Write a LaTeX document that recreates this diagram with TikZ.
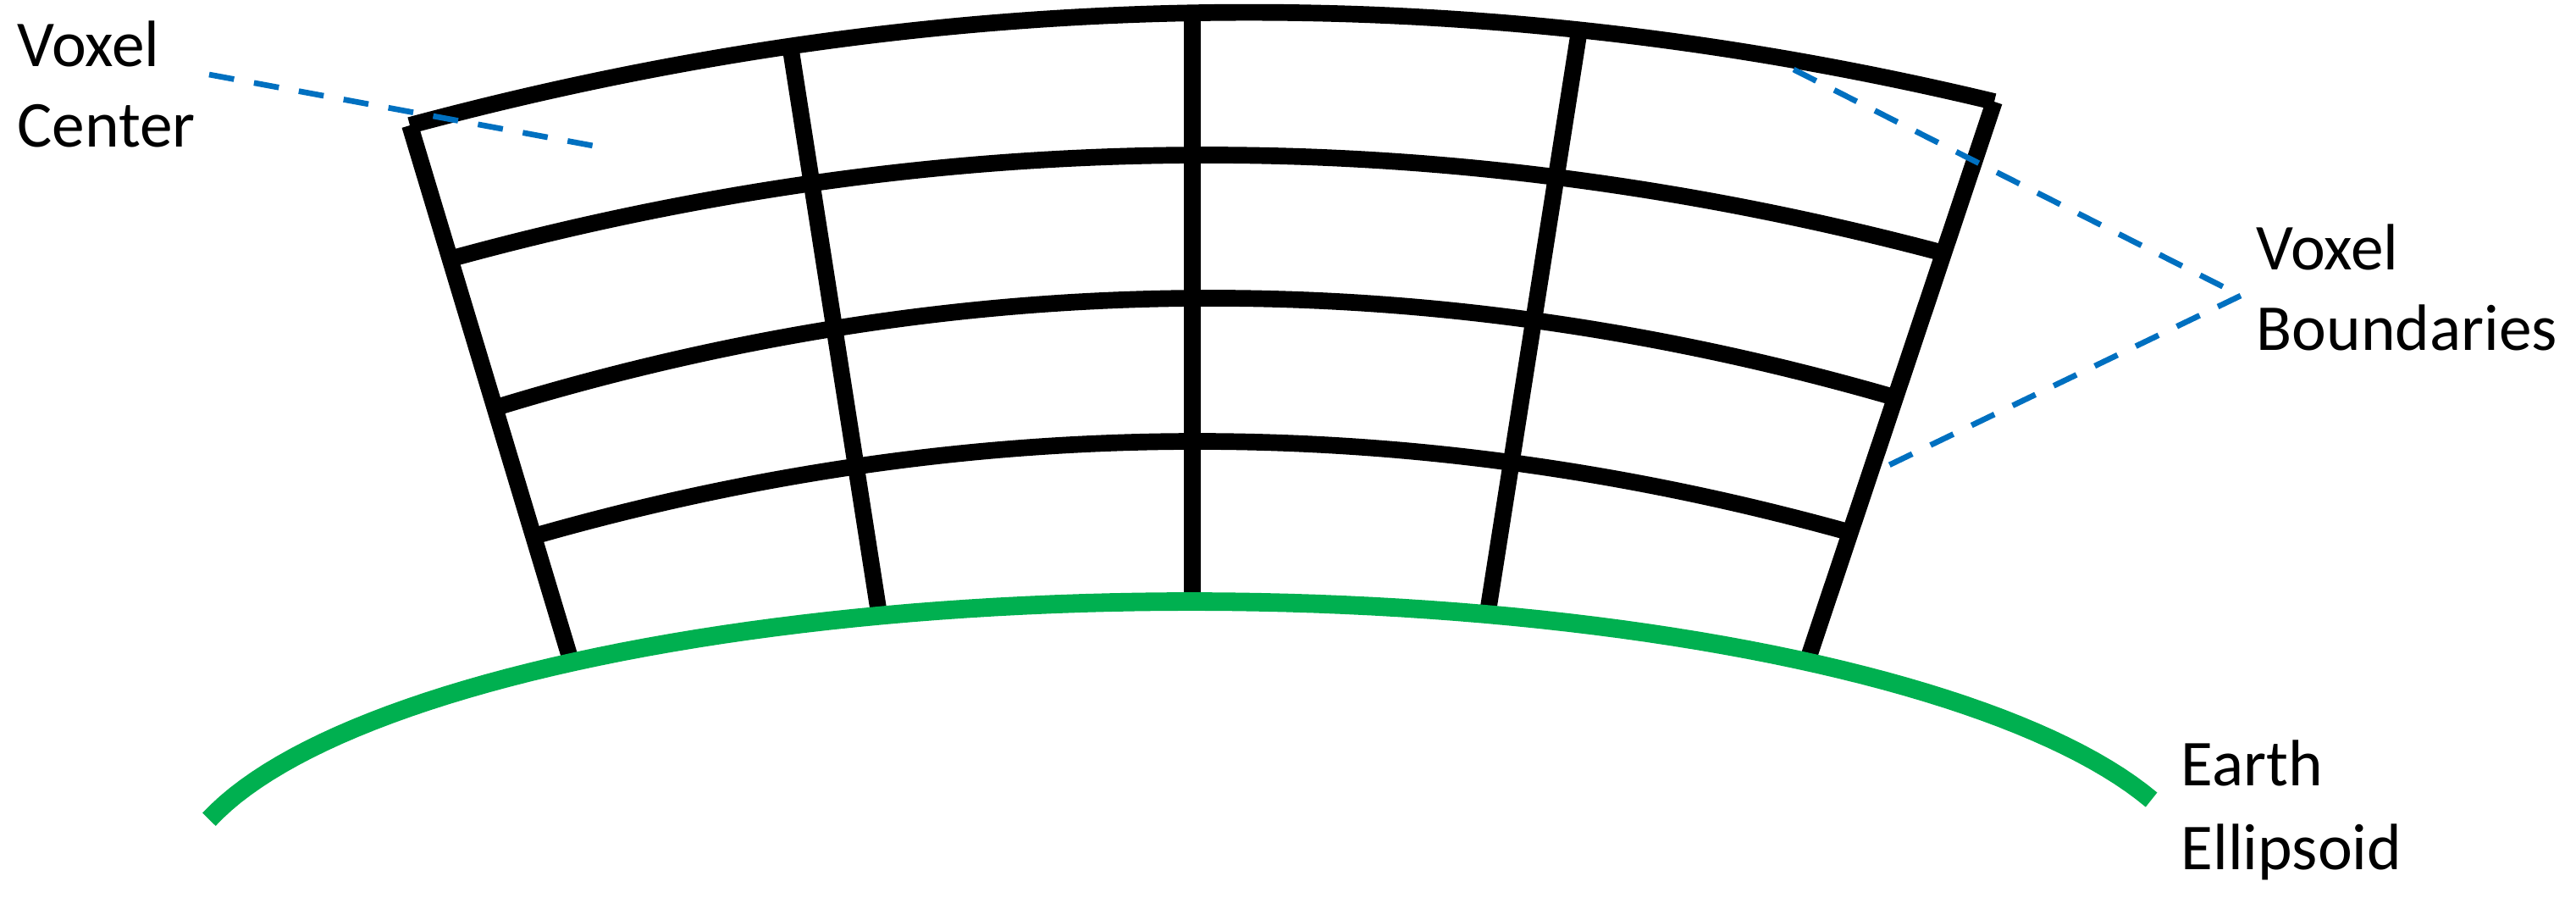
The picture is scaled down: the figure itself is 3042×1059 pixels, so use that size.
\documentclass[tikz,border=0pt]{standalone}
\usepackage{fontspec}
\setmainfont{Carlito}
\definecolor{earthgreen}{RGB}{0,176,80}
\definecolor{leaderblue}{RGB}{0,112,192}
\begin{document}
\begin{tikzpicture}[x=0.01cm,y=-0.01cm,
  grid/.style={line width=5.6pt, black},
  earth/.style={line width=6.2pt, color=earthgreen},
  leader/.style={line width=1.9pt, color=leaderblue, dash pattern=on 8.5pt off 6.8pt},
  lbl/.style={anchor=base west, inner sep=0pt, font=\fontsize{22}{27}\selectfont}]
\useasboundingbox (0,0) rectangle (3042,1059);
% radial line end points
\coordinate (t1) at (484,148);  \coordinate (b1) at (676,786);
\coordinate (t2) at (933,53);   \coordinate (b2) at (1038,724);
\coordinate (t3) at (1408,14);  \coordinate (b3) at (1408,708);
\coordinate (t4) at (1864,42);  \coordinate (b4) at (1757,722);
\coordinate (t5) at (2355,120); \coordinate (b5) at (2133,784);
% radial lines
\foreach \i in {1,...,5} { \draw[grid] (t\i) -- (b\i); }
% arcs
\draw[grid] (t1) .. controls (1108.3,-20) and (1732,-29.3) .. (t5);
\draw[grid] (530,306) .. controls (1116.3,144.7) and (1702.7,142) .. (2292,298);
\draw[grid] (589,480) .. controls (1137,313) and (1685,309.3) .. (2237,469);
\draw[grid] (630,633) .. controls (1146.3,485.3) and (1662.7,483.7) .. (2183,628);
% earth ellipsoid
\draw[earth] plot[domain=195:341, samples=90] ({1406+1200*cos(\x)},{1057+347*sin(\x)});
% labels
\node[lbl] (vc1) at (20,78) {Voxel};
\node[lbl] (vc2) at (20,173) {Center};
\node[lbl] (vb1) at (2664,318) {Voxel};
\node[lbl] (vb2) at (2664,413) {Boundaries};
\node[lbl] (ee1) at (2575,927) {Earth};
\node[lbl] (ee2) at (2575,1026) {Ellipsoid};
% leader lines
\coordinate (vcs) at (247,88);
\coordinate (vce) at (722,176);
\coordinate (vbu) at (2118,82);
\coordinate (vbx) at (2646,349);
\coordinate (vbl) at (2210,559);
\draw[leader] (vcs) -- (vce);
\draw[leader] (vbu) -- (vbx);
\draw[leader] (vbx) -- (vbl);
\end{tikzpicture}
\end{document}
